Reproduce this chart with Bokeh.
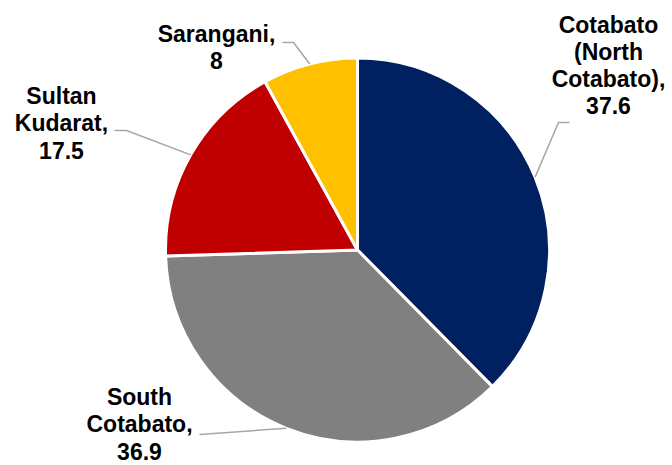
import math
from bokeh.plotting import figure
from bokeh.models import Range1d
from bokeh.core.properties import value
from bokeh.embed import file_html
from bokeh.resources import INLINE

# ---- data ----
categories = ["Cotabato\n(North\nCotabato)", "South\nCotabato", "Sultan\nKudarat", "Sarangani"]
values = [37.6, 36.9, 17.5, 8]
colors = ["#002060", "#808080", "#C00000", "#FFC000"]

# ---- layout (image pixel coords; y measured downward) ----
W, H = 672, 465
CX, CY, R = 357, 249.5, 192
# label block centre and leader-line elbow/end points per slice
label_pos = [(608, 65), (139, 424), (61, 123), (216, 47)]
elbows = [[(558, 122), (569, 122)], [(199, 434)], [(126, 130), (114, 130)], [(293, 42), (282, 42)]]

def Y(y):
    return H - y

p = figure(width=W, height=H, output_backend="svg", toolbar_location=None,
           x_range=Range1d(0, W), y_range=Range1d(0, H),
           min_border=0)
p.axis.visible = False
p.grid.visible = False
p.outline_line_color = None
p.background_fill_color = "white"

total = sum(values)
start = math.pi / 2
starts, ends, mids = [], [], []
for v in values:
    a = v / total * 2 * math.pi
    starts.append(start)
    ends.append(start - a)
    mids.append(start - a / 2)
    start -= a

p.wedge(x=CX, y=Y(CY), radius=R, start_angle=starts, end_angle=ends,
        direction="clock", fill_color=colors, line_color="white", line_width=3)

for i, (cat, v) in enumerate(zip(categories, values)):
    ex = CX + R * math.cos(mids[i])
    ey = Y(CY) + R * math.sin(mids[i])
    xs = [ex] + [e[0] for e in elbows[i]]
    ys = [ey] + [Y(e[1]) for e in elbows[i]]
    p.line(xs, ys, line_color="#A6A6A6", line_width=1.5)
    txt = cat + ",\n" + (str(v) if v != int(v) else str(int(v)))
    lx, ly = label_pos[i]
    p.text(x=[lx], y=[Y(ly)], text=[txt], text_align="center", text_baseline="middle",
           text_font=value("Liberation Sans"), text_font_style="bold",
           text_font_size="23px", text_color="black", text_line_height=1.05)

open("out.html", "w").write(file_html(p, INLINE))
